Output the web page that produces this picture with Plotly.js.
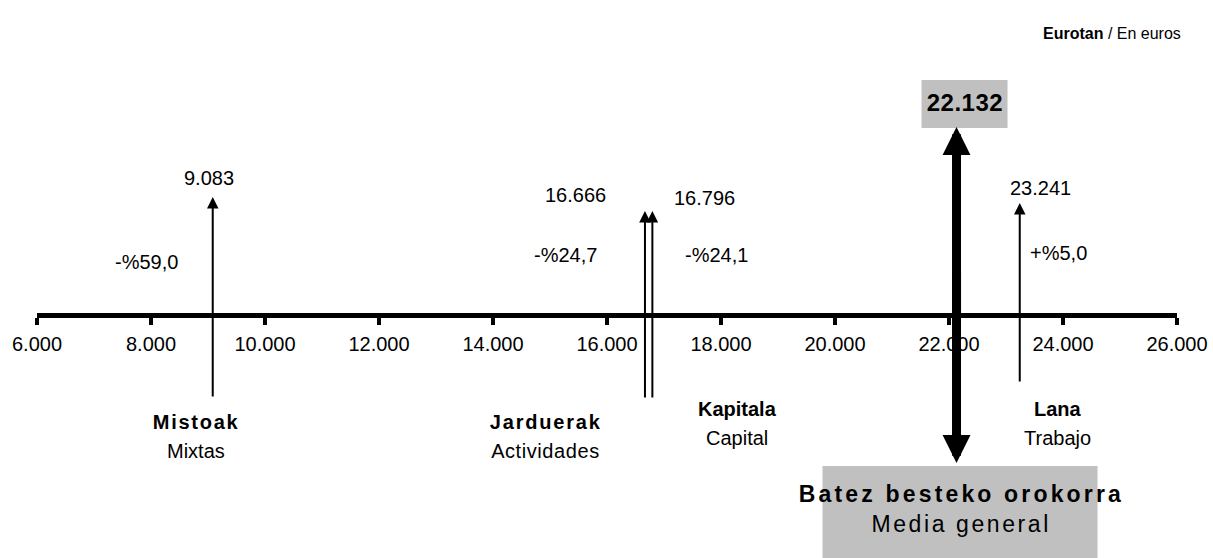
<!DOCTYPE html>
<html>
<head>
<meta charset="utf-8">
<script src="https://cdn.plot.ly/plotly-3.0.1.min.js"></script>
<style>
html,body{margin:0;padding:0;background:#fff;}
#chart{width:1213px;height:558px;}
</style>
</head>
<body>
<div id="chart"></div>
<script>
// ---- data ----
const categoriesEu = ['Mistoak', 'Jarduerak', 'Kapitala', 'Lana'];
const categoriesEs = ['Mixtas', 'Actividades', 'Capital', 'Trabajo'];
const values = [9083, 16666, 16796, 23241];
const changes = ['-%59,0', '-%24,7', '-%24,1', '+%5,0'];
const averageValue = 22132;
const averageLabelEu = 'Batez besteko orokorra';
const averageLabelEs = 'Media general';
const unitLabel = '<b>Eurotan</b> / En euros';
const tickValues = [6000, 8000, 10000, 12000, 14000, 16000, 18000, 20000, 22000, 24000, 26000];
const tickLabels = ['6.000', '8.000', '10.000', '12.000', '14.000', '16.000', '18.000', '20.000', '22.000', '24.000', '26.000'];

// ---- styling / layout helpers ----
const FONT = '"Liberation Sans", Arial, sans-serif';
const fmt = v => String(v).replace(/\B(?=(\d{3})+(?!\d))/g, '.');
// vertical positions (px from top) and horizontal label offsets (px)
const arrowTop = [197, 211, 211, 203];
const arrowBottom = [398, 399, 399, 383];
const valueY = [178, 195, 198, 188];
const valueShift = [-4, -69, 52, 21];
const changeY = [262, 255, 255, 253];
const changeShift = [-66, -79, 64, 39];
const catY = [422, 422, 409, 409];
const catShift = [-17, -100, 85, 38];
const catWidthEu = [85, 110, 0, 0];   // 0 = natural width
const catWidthEs = [0, 108, 0, 0];
const axisY = 315;

const annotations = [];
const fitWidths = [];
const shapes = [];
function addAnn(a, w) { annotations.push(a); fitWidths.push(w || 0); }

values.forEach((v, i) => {
  addAnn({
    x: v, y: arrowTop[i], xref: 'x', yref: 'y',
    ax: v, ay: arrowBottom[i], axref: 'x', ayref: 'y',
    text: '', showarrow: true, arrowhead: 2, arrowsize: 1.15, arrowwidth: 2,
    arrowcolor: '#000', standoff: 0, startstandoff: 0
  });
  addAnn({
    x: v, y: valueY[i], xref: 'x', yref: 'y', xshift: valueShift[i],
    text: fmt(v), showarrow: false, xanchor: 'center', yanchor: 'middle',
    font: {family: FONT, size: 20, color: '#000'}
  });
  addAnn({
    x: v, y: changeY[i], xref: 'x', yref: 'y', xshift: changeShift[i],
    text: changes[i], showarrow: false, xanchor: 'center', yanchor: 'middle',
    font: {family: FONT, size: 20, color: '#000'}
  });
  addAnn({
    x: v, y: catY[i], xref: 'x', yref: 'y', xshift: catShift[i],
    text: '<b>' + categoriesEu[i] + '</b>', showarrow: false, xanchor: 'center', yanchor: 'middle',
    font: {family: FONT, size: 20, color: '#000'}
  }, catWidthEu[i]);
  addAnn({
    x: v, y: catY[i] + 29, xref: 'x', yref: 'y', xshift: catShift[i],
    text: categoriesEs[i], showarrow: false, xanchor: 'center', yanchor: 'middle',
    font: {family: FONT, size: 20, color: '#000'}
  }, catWidthEs[i]);
});

// average: thick double-headed arrow (two overlapping halves)
[[127, 320], [463, 270]].forEach(([tip, tail]) => {
  addAnn({
    x: averageValue, y: tip, xref: 'x', yref: 'y',
    ax: averageValue, ay: tail, axref: 'x', ayref: 'y',
    text: '', showarrow: true, arrowhead: 2, arrowsize: 0.62, arrowwidth: 9,
    arrowcolor: '#000', standoff: 0, startstandoff: 0
  });
});

// boxes for the average
shapes.push({
  type: 'rect', xref: 'x', yref: 'y', xsizemode: 'pixel', xanchor: averageValue,
  x0: -35, x1: 51, y0: 80, y1: 128, fillcolor: '#c0c0c0', line: {width: 0}, layer: 'below'
});
shapes.push({
  type: 'rect', xref: 'x', yref: 'y', xsizemode: 'pixel', xanchor: averageValue,
  x0: -134, x1: 141, y0: 466, y1: 600, fillcolor: '#c0c0c0', line: {width: 0}, layer: 'below'
});
addAnn({
  x: averageValue, y: 102, xref: 'x', yref: 'y', xshift: 8,
  text: '<b>' + fmt(averageValue) + '</b>', showarrow: false, xanchor: 'center', yanchor: 'middle',
  font: {family: FONT, size: 24, color: '#000'}
}, 76);
addAnn({
  x: averageValue, y: 494, xref: 'x', yref: 'y', xshift: 3,
  text: '<b>' + averageLabelEu + '</b>', showarrow: false, xanchor: 'center', yanchor: 'middle',
  font: {family: FONT, size: 23, color: '#000'}
}, 322);
addAnn({
  x: averageValue, y: 524, xref: 'x', yref: 'y', xshift: 3,
  text: averageLabelEs, showarrow: false, xanchor: 'center', yanchor: 'middle',
  font: {family: FONT, size: 23, color: '#000'}
}, 177);
addAnn({
  x: 1.0053, y: 33, xref: 'paper', yref: 'y',
  text: unitLabel, showarrow: false, xanchor: 'right', yanchor: 'middle',
  font: {family: FONT, size: 16, color: '#000'}
});

const layout = {
  width: 1213, height: 558,
  margin: {l: 37, r: 36, t: 0, b: 0, pad: 0},
  paper_bgcolor: '#fff', plot_bgcolor: 'rgba(0,0,0,0)',
  showlegend: false,
  xaxis: {
    range: [6000, 26000], showgrid: false, zeroline: false,
    showline: true, linewidth: 4.5, linecolor: '#000',
    ticks: 'outside', ticklen: 7, tickwidth: 4, tickcolor: '#000',
    tickvals: tickValues, ticktext: tickLabels,
    tickfont: {family: FONT, size: 20, color: '#000'},
    anchor: 'free', position: 1 - axisY / 558,
    ticklabelstandoff: 2, fixedrange: true
  },
  yaxis: {range: [558, 0], visible: false, domain: [0, 1], fixedrange: true},
  annotations: annotations,
  shapes: shapes
};

Plotly.newPlot('chart', [{x: [], y: [], type: 'scatter', hoverinfo: 'skip'}], layout, {staticPlot: true, displayModeBar: false})
  .then(gd => {
    // stretch selected centered labels to the widths they have in the original
    gd.querySelectorAll('.annotation').forEach(g => {
      const idx = +g.getAttribute('data-index');
      const w = fitWidths[idx];
      if (!w) return;
      const t = g.querySelector('text.annotation-text');
      if (t) {
        t.setAttribute('textLength', w);
        t.setAttribute('lengthAdjust', 'spacing');
      }
    });
  });
</script>
</body>
</html>
